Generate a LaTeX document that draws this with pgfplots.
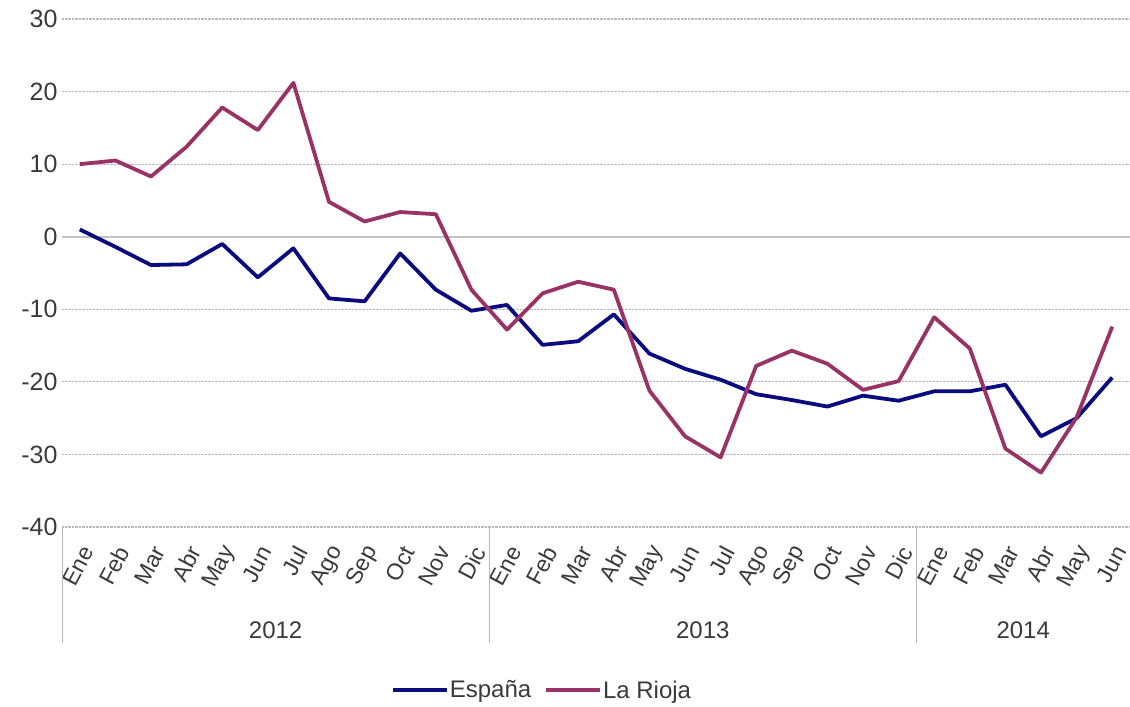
\documentclass[border=0pt]{standalone}
\usepackage{pgfplots}
\pgfplotsset{compat=1.18}
\usepackage{pgfplotstable}
\usepackage{fontspec}
\setmainfont{Liberation Sans}
\definecolor{espana}{HTML}{0B0B80}
\definecolor{rioja}{HTML}{993366}
\definecolor{txt}{HTML}{3A3A3A}
\definecolor{gridc}{HTML}{B8B8B8}

% monthly rate, 2012 Ene .. 2014 Jun
\pgfplotstableread{
idx esp rio
0 1.0 10.0
1 -1.4 10.5
2 -3.9 8.3
3 -3.8 12.4
4 -1.0 17.8
5 -5.6 14.7
6 -1.6 21.2
7 -8.5 4.8
8 -8.9 2.1
9 -2.3 3.4
10 -7.3 3.1
11 -10.2 -7.3
12 -9.4 -12.8
13 -14.9 -7.8
14 -14.4 -6.2
15 -10.7 -7.3
16 -16.1 -21.2
17 -18.2 -27.5
18 -19.7 -30.4
19 -21.7 -17.8
20 -22.5 -15.7
21 -23.4 -17.5
22 -21.9 -21.1
23 -22.6 -19.9
24 -21.3 -11.1
25 -21.3 -15.4
26 -20.4 -29.2
27 -27.5 -32.5
28 -25.0 -24.9
29 -19.4 -12.4
}\datatable

\begin{document}
\begin{tikzpicture}
\begin{axis}[
    name=ax,
    scale only axis,
    width=1068pt, height=508pt,
    xmin=-0.5, xmax=29.5,
    ymin=-40, ymax=30,
    clip=false,
    axis line style={draw=none},
    tick style={draw=none},
    ytick={-40,-30,...,30},
    xtick={0,...,29},
    xticklabels={Ene,Feb,Mar,Abr,May,Jun,Jul,Ago,Sep,Oct,Nov,Dic,
                 Ene,Feb,Mar,Abr,May,Jun,Jul,Ago,Sep,Oct,Nov,Dic,
                 Ene,Feb,Mar,Abr,May,Jun},
    ymajorgrids,
    grid style={gridc, densely dotted, line width=1.2pt},
    extra y ticks={0},
    extra y tick labels={},
    extra y tick style={grid=major, major grid style={gridc!85, solid, line width=1.8pt}},
    /pgf/number format/assume math mode=true,
    yticklabel style={font=\fontsize{25}{25}\selectfont, text=txt, xshift=-1pt},
    xticklabel shift=13pt,
    xticklabel style={font=\fontsize{23}{23}\selectfont, text=txt, rotate=62, anchor=east,
        inner sep=0pt, xshift=-3pt, yshift=-11pt},
    legend style={at={(0.449,-0.321)}, anchor=center, draw=none, fill=none,
        legend columns=2, font=\fontsize{24}{24}\selectfont, text=txt,
        /tikz/every even column/.append style={column sep=12pt},
        nodes={inner sep=1pt}},
    legend image code/.code={\draw[#1] (0pt,0pt) -- (54pt,0pt);},
]
\addplot[espana, line width=3.8pt, line join=round] table[x=idx, y=esp] {\datatable};
\addplot[rioja, line width=3.8pt, line join=round] table[x=idx, y=rio] {\datatable};
\legend{España, La Rioja}

\draw[gridc, line width=1pt] (axis cs:-0.5,-40) -- ++(0pt,-116pt);
\draw[gridc, line width=1pt] (axis cs:11.5,-40) -- ++(0pt,-116pt);
\draw[gridc, line width=1pt] (axis cs:23.5,-40) -- ++(0pt,-116pt);
\node[font=\fontsize{24}{24}\selectfont, text=txt, yshift=-103pt] at (axis cs:5.5,-40) {2012};
\node[font=\fontsize{24}{24}\selectfont, text=txt, yshift=-103pt] at (axis cs:17.5,-40) {2013};
\node[font=\fontsize{24}{24}\selectfont, text=txt, yshift=-103pt] at (axis cs:26.5,-40) {2014};
\end{axis}
\pgfresetboundingbox
\useasboundingbox ([xshift=-62pt, yshift=-179pt]ax.south west) rectangle ([yshift=19pt]ax.north east);
\end{tikzpicture}
\end{document}
